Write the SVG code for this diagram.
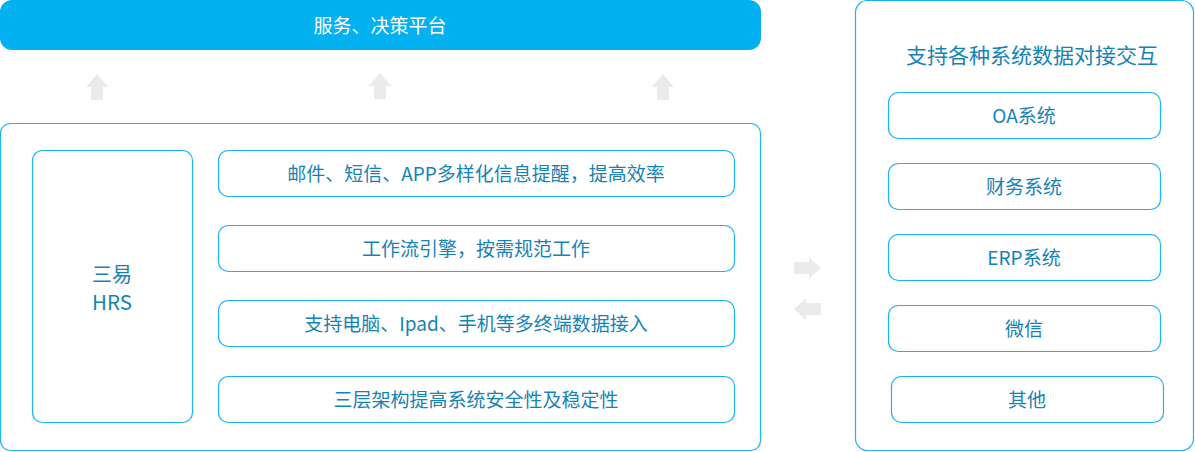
<svg xmlns="http://www.w3.org/2000/svg" width="1195" height="452" viewBox="0 0 1195 452">
<style>
.box{fill:#fff;stroke:#1cb4ee;stroke-width:1.2}
.t{font-family:"Noto Sans CJK SC","Noto Sans",sans-serif;fill:#1683b5;text-anchor:middle;dominant-baseline:central;font-size:19px}
.arr{fill:#ebebeb}
</style>
<rect width="1195" height="452" fill="#fff"/>
<g id="top">
<rect x="0" y="0" width="761" height="50" rx="12" fill="#03b1f1"/>
<text class="t" x="380" y="24" style="fill:#fff">服务、决策平台</text>
</g>
<g id="connectors">
<path class="arr" d="M97,74 L108,87 L103,87 L103,100 L91,100 L91,87 L86,87 Z"/>
<path class="arr" d="M380,73 L391,86 L386,86 L386,99 L374,99 L374,86 L369,86 Z"/>
<path class="arr" d="M663,74 L674,87 L669,87 L669,100 L657,100 L657,87 L652,87 Z"/>
<path class="arr" d="M794,262 L809,262 L809,257 L821,268 L809,279 L809,274 L794,274 Z"/>
<path class="arr" d="M794,309 L806,298 L806,303 L821,303 L821,315 L806,315 L806,320 Z"/>
</g>
<g id="main">
<rect class="box" x="0.5" y="123.5" width="760" height="327" rx="10"/>
</g>
<g id="hrs">
<rect class="box" x="32.5" y="150.5" width="160" height="272" rx="10"/>
<text class="t" x="112" y="273" style="font-size:20px">三易</text>
<text class="t" x="112" y="301" style="font-size:20.5px">HRS</text>
</g>
<g id="f1">
<rect class="box" x="218.5" y="150.5" width="516" height="46" rx="10"/>
<text class="t" x="476" y="172.5">邮件、短信、APP多样化信息提醒，提高效率</text>
</g>
<g id="f2">
<rect class="box" x="218.5" y="225.5" width="516" height="46" rx="10"/>
<text class="t" x="476" y="247.5">工作流引擎，按需规范工作</text>
</g>
<g id="f3">
<rect class="box" x="218.5" y="300.5" width="516" height="46" rx="10"/>
<text class="t" x="476" y="322.5">支持电脑、Ipad、手机等多终端数据接入</text>
</g>
<g id="f4">
<rect class="box" x="218.5" y="376.5" width="516" height="46" rx="10"/>
<text class="t" x="476" y="398.5">三层架构提高系统安全性及稳定性</text>
</g>
<g id="right">
<rect class="box" x="855.5" y="0.5" width="338" height="450" rx="12"/>
<text class="t" x="1032" y="54" style="font-size:21px">支持各种系统数据对接交互</text>
</g>
<g id="oa">
<rect class="box" x="888.5" y="92.5" width="272" height="46" rx="10"/>
<text class="t" x="1024" y="114.5">OA系统</text>
</g>
<g id="cw">
<rect class="box" x="888.5" y="163.5" width="272" height="46" rx="10"/>
<text class="t" x="1024" y="185.5">财务系统</text>
</g>
<g id="erp">
<rect class="box" x="888.5" y="234.5" width="272" height="46" rx="10"/>
<text class="t" x="1024" y="256.5">ERP系统</text>
</g>
<g id="wx">
<rect class="box" x="888.5" y="305.5" width="272" height="46" rx="10"/>
<text class="t" x="1024" y="327.5">微信</text>
</g>
<g id="qt">
<rect class="box" x="891.5" y="376.5" width="272" height="46" rx="10"/>
<text class="t" x="1027" y="398.5">其他</text>
</g>
</svg>
